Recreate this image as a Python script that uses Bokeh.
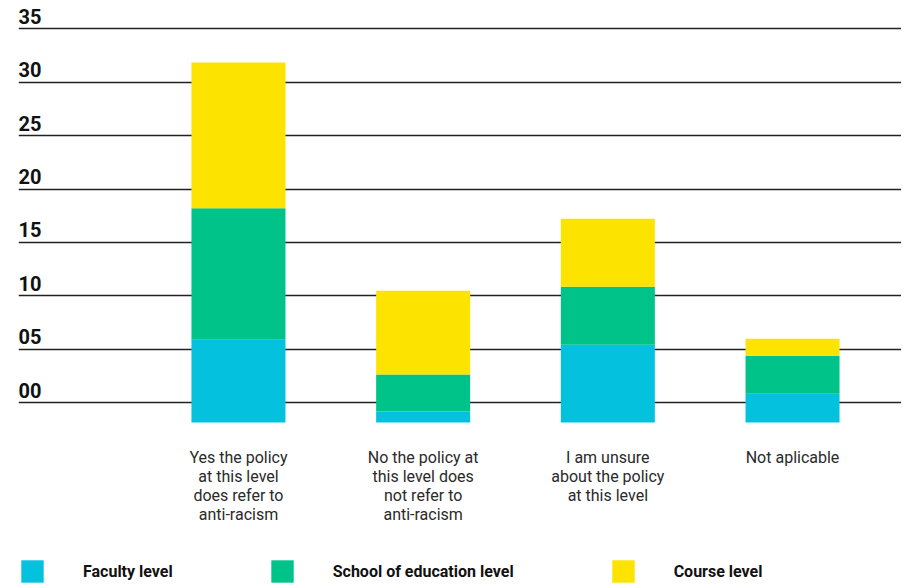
from bokeh.plotting import figure
from bokeh.models import ColumnDataSource, LabelSet, FixedTicker, Legend, LegendItem
from bokeh.core.properties import value
from bokeh.embed import file_html
from bokeh.resources import INLINE

# ---- data ----
categories = [
    "Yes the policy\nat this level\ndoes refer to\nanti-racism",
    "No the policy at\nthis level does\nnot refer to\nanti-racism",
    "I am unsure\nabout the policy\nat this level",
    "Not aplicable",
]
faculty = [7.75, 1.03, 7.28, 2.69]
school = [12.30, 3.47, 5.43, 3.56]
course = [13.65, 7.84, 6.37, 1.59]
series_names = ["Faculty level", "School of education level", "Course level"]
colors = ["#04C2DE", "#00C389", "#FCE300"]
tick_values = [0, 5, 10, 15, 20, 25, 30, 35]
tick_labels = ["00", "05", "10", "15", "20", "25", "30", "35"]
baseline = -1.85

FONT = "Roboto"
X_START, X_END = -0.191, 4.590
Y_START, Y_END = -17.107, 36.9
LABEL_GAP = 26      # px between bar base and first label line
LINE_STEP = 19      # px between label lines

xs = list(range(1, len(categories) + 1))
series = [faculty, school, course]
data = {"x": xs}
running = [baseline] * len(xs)
for i, s in enumerate(series):
    data[f"b{i}"] = list(running)
    running = [r + v for r, v in zip(running, s)]
    data[f"t{i}"] = list(running)
src = ColumnDataSource(data)

p = figure(width=901, height=585, output_backend="svg", toolbar_location=None,
           x_range=(X_START, X_END), y_range=(Y_START, Y_END),
           x_axis_location=None, y_axis_location=None,
           min_border_left=18, min_border_right=0, min_border_top=8, min_border_bottom=0)
p.outline_line_color = None
p.xgrid.grid_line_color = None
p.ygrid.ticker = FixedTicker(ticks=tick_values)
p.ygrid.grid_line_color = "#222222"
p.ygrid.grid_line_width = 1.5

renderers = []
for i, (name, c) in enumerate(zip(series_names, colors)):
    r = p.vbar(x="x", bottom=f"b{i}", top=f"t{i}", width=0.509, source=src,
               fill_color=c, line_color=None)
    renderers.append(r)

# y tick labels
lab_src = ColumnDataSource({"x": [X_START] * len(tick_values), "y": tick_values, "t": tick_labels})
p.add_layout(LabelSet(x="x", y="y", text="t", source=lab_src, text_align="left",
                      text_baseline="alphabetic", y_offset=5,
                      text_font=value(FONT), text_font_style="bold",
                      text_font_size="20px", text_color="#111111"))

# category labels under the bars, each line centred
cx, cy, ct, co = [], [], [], []
for x, cat in zip(xs, categories):
    for k, line in enumerate(cat.split("\n")):
        cx.append(x)
        cy.append(baseline)
        ct.append(line)
        co.append(-LABEL_GAP - LINE_STEP * k)
cat_src = ColumnDataSource({"x": cx, "y": cy, "t": ct, "off": co})
p.add_layout(LabelSet(x="x", y="y", text="t", y_offset="off", source=cat_src,
                      text_align="center", text_baseline="top",
                      text_font=value(FONT), text_font_size="16px",
                      text_color="#2a2a2a"))

legend = Legend(items=[LegendItem(label=n, renderers=[r]) for n, r in zip(series_names, renderers)],
                orientation="horizontal", location="bottom_left",
                glyph_width=28, glyph_height=28, label_standoff=37, spacing=95,
                padding=0, margin=0, border_line_color=None, background_fill_alpha=0,
                label_text_font=FONT, label_text_font_style="bold",
                label_text_font_size="16px", label_text_color="#111111")
p.add_layout(legend, "center")

open("out.html", "w").write(file_html(p, INLINE))
